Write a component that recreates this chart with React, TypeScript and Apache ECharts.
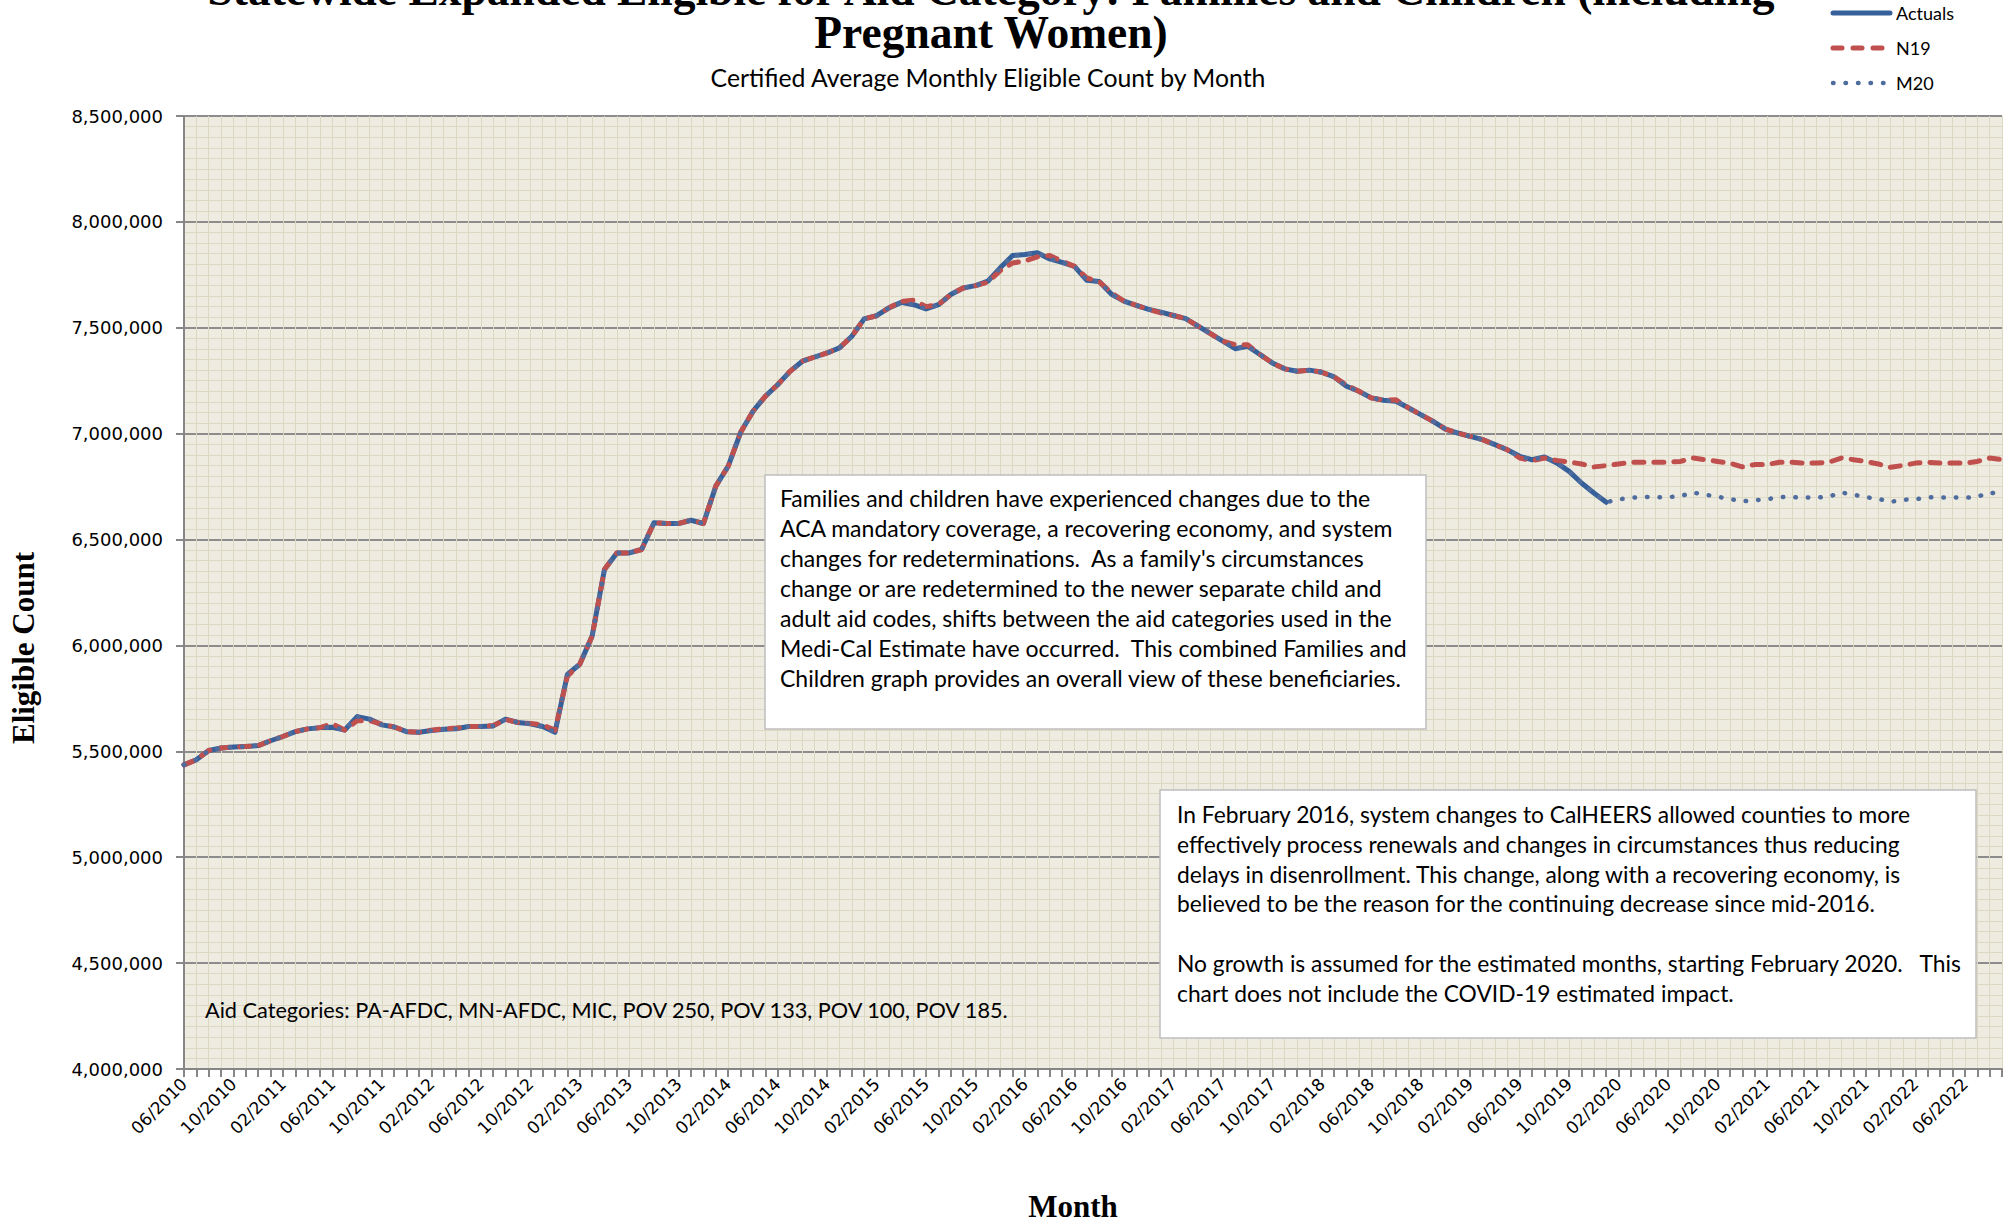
import React, { useEffect, useRef } from "react";
import * as echarts from "echarts";

// Month categories 06/2010 .. 09/2022
const months: string[] = [];
for (let i = 0; i < 148; i++) {
  const mm = ((5 + i) % 12) + 1;
  const yy = 2010 + Math.floor((5 + i) / 12);
  months.push(`${String(mm).padStart(2, "0")}/${yy}`);
}

const yTicks = [4000000, 4500000, 5000000, 5500000, 6000000, 6500000, 7000000, 7500000, 8000000, 8500000];

// Actuals 06/2010 .. 01/2020
const actuals = [
  5436000, 5460000, 5504000, 5516000, 5520000, 5523000, 5527000, 5550000, 5570000, 5593000, 5606000, 5612000,
  5614000, 5601000, 5664000, 5652000, 5625000, 5615000, 5593000, 5590000, 5598000, 5604000, 5607000, 5617000,
  5617000, 5620000, 5652000, 5636000, 5630000, 5617000, 5590000, 5863000, 5911000, 6044000, 6359000, 6437000,
  6437000, 6453000, 6579000, 6576000, 6576000, 6591000, 6576000, 6752000, 6846000, 7005000, 7105000, 7176000,
  7231000, 7294000, 7342000, 7362000, 7381000, 7405000, 7460000, 7542000, 7557000, 7594000, 7620000, 7609000,
  7589000, 7609000, 7657000, 7688000, 7699000, 7720000, 7783000, 7841000, 7846000, 7854000, 7825000, 7809000,
  7790000, 7724000, 7718000, 7658000, 7626000, 7606000, 7587000, 7574000, 7558000, 7543000, 7508000, 7472000,
  7437000, 7401000, 7413000, 7374000, 7334000, 7306000, 7295000, 7300000, 7290000, 7268000, 7224000, 7200000,
  7169000, 7158000, 7153000, 7122000, 7090000, 7058000, 7022000, 7003000, 6987000, 6972000, 6948000, 6924000,
  6893000, 6877000, 6890000, 6862000, 6822000, 6767000, 6720000, 6676000,
];

// N19 06/2010 .. 09/2022
const n19 = [
  5436000, 5460000, 5504000, 5516000, 5520000, 5523000, 5527000, 5550000, 5570000, 5593000, 5606000, 5612000,
  5630000, 5600000, 5645000, 5645000, 5628000, 5615000, 5593000, 5590000, 5600000, 5606000, 5610000, 5617000,
  5617000, 5622000, 5650000, 5636000, 5632000, 5625000, 5600000, 5855000, 5911000, 6044000, 6359000, 6437000,
  6437000, 6453000, 6579000, 6576000, 6576000, 6591000, 6576000, 6752000, 6846000, 7005000, 7105000, 7176000,
  7231000, 7294000, 7342000, 7362000, 7381000, 7405000, 7460000, 7542000, 7557000, 7594000, 7625000, 7630000,
  7600000, 7609000, 7657000, 7688000, 7699000, 7715000, 7770000, 7806000, 7815000, 7835000, 7841000, 7814000,
  7790000, 7735000, 7718000, 7665000, 7626000, 7606000, 7587000, 7570000, 7558000, 7543000, 7508000, 7472000,
  7437000, 7420000, 7420000, 7374000, 7334000, 7306000, 7295000, 7300000, 7290000, 7268000, 7230000, 7200000,
  7169000, 7158000, 7160000, 7122000, 7090000, 7058000, 7022000, 7003000, 6987000, 6972000, 6948000, 6924000,
  6885000, 6872000, 6885000, 6873000, 6866000, 6857000, 6843000, 6849000, 6857000, 6865000, 6865000, 6865000,
  6865000, 6869000, 6885000, 6877000, 6869000, 6861000, 6843000, 6854000, 6854000, 6865000, 6865000, 6861000,
  6861000, 6865000, 6885000, 6877000, 6869000, 6857000, 6841000, 6850000, 6861000, 6865000, 6861000, 6861000,
  6861000, 6869000, 6885000, 6877000,
];

// M20 estimate 02/2020 .. 09/2022 (history equals actuals)
const m20Forecast = [
  6690000, 6697000, 6702000, 6700000, 6700000, 6705000, 6722000, 6712000, 6702000, 6692000, 6680000, 6686000,
  6690000, 6701000, 6700000, 6698000, 6698000, 6703000, 6722000, 6712000, 6700000, 6692000, 6678000, 6688000,
  6690000, 6700000, 6699000, 6699000, 6697000, 6702000, 6722000, 6714000,
];
const m20 = [...actuals, ...m20Forecast];

const seriesNames = ["Actuals", "N19", "M20"];
const seriesColors = ["#36609A", "#C0504D", "#4F6C9E"];

const titleLines = [
  "Statewide Expanded Eligible for Aid Category: Families and Children (including",
  "Pregnant Women)",
];
const subtitle = "Certified Average Monthly Eligible Count by Month";

const box1Lines = [
  "Families and children have experienced changes due to the",
  "ACA mandatory coverage, a recovering economy, and system",
  "changes for redeterminations.  As a family's circumstances",
  "change or are redetermined to the newer separate child and",
  "adult aid codes, shifts between the aid categories used in the",
  "Medi-Cal Estimate have occurred.  This combined Families and",
  "Children graph provides an overall view of these beneficiaries.",
];
const box2Lines = [
  "In February 2016, system changes to CalHEERS allowed counties to more",
  "effectively process renewals and changes in circumstances thus reducing",
  "delays in disenrollment. This change, along with a recovering economy, is",
  "believed to be the reason for the continuing decrease since mid-2016.",
  "",
  "No growth is assumed for the estimated months, starting February 2020.   This",
  "chart does not include the COVID-19 estimated impact.",
];
const aidNote = "Aid Categories: PA-AFDC, MN-AFDC, MIC, POV 250, POV 133, POV 100, POV 185.";

const SANS = "Lato";
const SERIF = "Liberation Serif";
const AXIS_FONT = "DejaVu Sans";
const GRID_MINOR = "#DCD8C1";
const AXIS_GRAY = "#868686";

const DASH_N19 = [10, 10];
const DASH_M20 = [0.5, 12];

function txt(text: string, x: number, y: number, opts: any = {}) {
  return {
    type: "text",
    x,
    y,
    z: 100,
    rotation: opts.rotation || 0,
    style: {
      text,
      fill: "#000",
      fontFamily: opts.fontFamily || SANS,
      fontSize: opts.fontSize || 23,
      fontWeight: opts.fontWeight || "normal",
      lineHeight: opts.lineHeight,
      textAlign: opts.align || "left",
      align: opts.align || "left",
      textVerticalAlign: "middle",
      verticalAlign: "middle",
    },
  };
}

export default function App() {
  const ref = useRef<HTMLDivElement>(null);
  useEffect(() => {
    document.body.style.margin = "0";
    if (!ref.current) return;
    const chart = echarts.init(ref.current, undefined, { renderer: "svg" });

    const graphics: any[] = [];
    graphics.push(
      txt(titleLines.join("\n"), 991, 10.5, {
        fontFamily: SERIF, fontSize: 45.5, fontWeight: "bold", align: "center", lineHeight: 43,
      })
    );
    graphics.push(txt(subtitle, 988, 77, { fontSize: 24.8, align: "center" }));
    graphics.push(txt("Month", 1073, 1206, { fontFamily: SERIF, fontSize: 31, fontWeight: "bold", align: "center" }));
    graphics.push(txt("Eligible Count", 23, 648, { fontFamily: SERIF, fontSize: 31, fontWeight: "bold", align: "center", rotation: Math.PI / 2 }));

    // legend
    const legendY = [13, 48, 83];
    const legendStyles = [
      { lineWidth: 5, lineDash: null as any, lineCap: "round" },
      { lineWidth: 5, lineDash: [9, 11], lineCap: "round" },
      { lineWidth: 4.5, lineDash: DASH_M20, lineCap: "round" },
    ];
    seriesNames.forEach((name, i) => {
      graphics.push({
        type: "line", z: 100,
        shape: { x1: 1833, y1: legendY[i], x2: 1890, y2: legendY[i] },
        style: { stroke: seriesColors[i], lineWidth: legendStyles[i].lineWidth, lineDash: legendStyles[i].lineDash, lineCap: legendStyles[i].lineCap },
      });
      graphics.push(txt(name, 1896, legendY[i], { fontSize: 18 }));
    });

    graphics.push({
      type: "rect", z: 99,
      shape: { x: 765, y: 475, width: 661, height: 254 },
      style: { fill: "#fff", stroke: "#BFBFBF", lineWidth: 1.5 },
    });
    box1Lines.forEach((l, i) => graphics.push(txt(l, 780, 498 + i * 30, { fontSize: 23 })));

    graphics.push({
      type: "rect", z: 99,
      shape: { x: 1160, y: 790, width: 816, height: 248 },
      style: { fill: "#fff", stroke: "#BFBFBF", lineWidth: 1.5 },
    });
    box2Lines.forEach((l, i) => { if (l) graphics.push(txt(l, 1177, 814 + i * 29.8, { fontSize: 22.8 })); });

    graphics.push(txt(aidNote, 205, 1010, { fontSize: 21.7 }));

    const option: any = {
      animation: false,
      backgroundColor: "#fff",
      grid: {
        left: 184, right: 10, top: 116, bottom: 153,
        show: true, backgroundColor: "#EEEBE0", borderWidth: 0,
      },
      xAxis: {
        type: "category",
        data: months,
        boundaryGap: false,
        axisLine: { lineStyle: { color: AXIS_GRAY, width: 2 } },
        axisTick: { show: true, interval: 0, length: 8, lineStyle: { color: AXIS_GRAY, width: 2 } },
        axisLabel: { interval: 3, rotate: 45, margin: 12, fontFamily: AXIS_FONT, fontSize: 17, color: "#000" },
        splitLine: { show: true, interval: 0, lineStyle: { color: GRID_MINOR, width: 1 } },
      },
      yAxis: {
        type: "value",
        min: yTicks[0],
        max: yTicks[yTicks.length - 1],
        interval: 500000,
        axisLine: { show: true, lineStyle: { color: AXIS_GRAY, width: 2 } },
        axisTick: { show: true, length: 8, lineStyle: { color: AXIS_GRAY, width: 2 } },
        axisLabel: {
          margin: 21, fontFamily: AXIS_FONT, fontSize: 18, color: "#000",
          formatter: (v: number) => v.toLocaleString("en-US"),
        },
        splitLine: { show: true, lineStyle: { color: "#8C8C8C", width: 2 } },
        minorTick: { show: false, splitNumber: 10 },
        minorSplitLine: { show: true, lineStyle: { color: GRID_MINOR, width: 1 } },
      },
      series: [
        {
          name: seriesNames[0], type: "line", data: actuals, symbol: "none", showSymbol: false,
          itemStyle: { color: seriesColors[0] },
          lineStyle: { color: seriesColors[0], width: 5, join: "round", cap: "round" },
        },
        {
          name: seriesNames[1], type: "line", data: n19, symbol: "none", showSymbol: false,
          itemStyle: { color: seriesColors[1] },
          lineStyle: { color: seriesColors[1], width: 5, type: DASH_N19, cap: "round", join: "round" },
        },
        {
          name: seriesNames[2], type: "line", data: m20, symbol: "none", showSymbol: false,
          itemStyle: { color: seriesColors[2] },
          lineStyle: { color: seriesColors[2], width: 4.5, type: DASH_M20, cap: "round", join: "round" },
        },
      ],
      graphic: graphics,
    };
    chart.setOption(option);
    return () => chart.dispose();
  }, []);
  return <div ref={ref} style={{ position: "fixed", left: 0, top: 0, width: 2012, height: 1222 }} />;
}
